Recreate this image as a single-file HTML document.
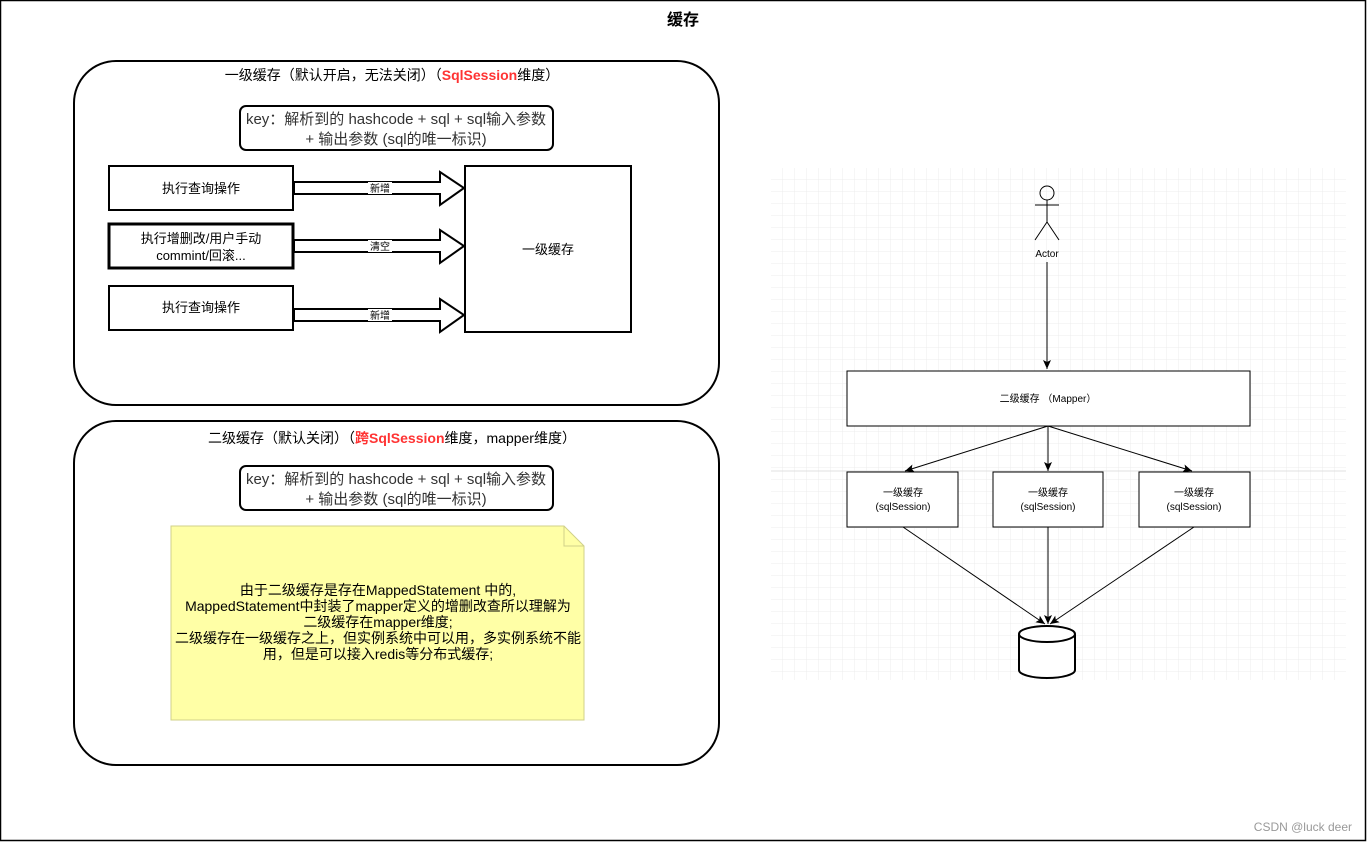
<!DOCTYPE html>
<html><head><meta charset="utf-8"><style>
html,body{margin:0;padding:0;background:#fff;}
svg{display:block;font-family:"Liberation Sans","Noto Sans CJK SC",sans-serif;}
</style></head><body>
<svg width="1367" height="842" viewBox="0 0 1367 842" xmlns="http://www.w3.org/2000/svg">
<defs>
<pattern id="g" x="771" y="168" width="12" height="12" patternUnits="userSpaceOnUse">
<path d="M12 0V12M0 12H12" stroke="#ececec" stroke-width="1" fill="none"/>
</pattern>
<marker id="a" markerWidth="10" markerHeight="10" refX="9" refY="5" orient="auto" markerUnits="userSpaceOnUse">
<path d="M0 1L9 5L0 9L2 5Z" fill="#000"/>
</marker>
</defs>
<rect x="0.5" y="0.5" width="1365" height="840" fill="#fff" stroke="#000" stroke-width="1.5"/>
<text x="683" y="25" font-size="16" font-weight="bold" text-anchor="middle">缓存</text>

<!-- box 1 -->
<rect x="74" y="61" width="645" height="344" rx="42" fill="#fff" stroke="#000" stroke-width="2"/>
<text x="392" y="80" font-size="14" text-anchor="middle">一级缓存（默认开启，无法关闭）（<tspan fill="#ff3333" font-weight="bold">SqlSession</tspan>维度）</text>
<rect x="240" y="106" width="313" height="44" rx="6" fill="#fff" stroke="#000" stroke-width="2"/>
<text x="396" y="124" font-size="15" fill="#333" text-anchor="middle">key：解析到的 hashcode + sql + sql输入参数</text>
<text x="396" y="144" font-size="15" fill="#333" text-anchor="middle">+ 输出参数 (sql的唯一标识)</text>

<g stroke="#000" fill="#fff">
<rect x="109" y="166" width="184" height="44" stroke-width="2"/>
<rect x="109" y="224" width="184" height="44" stroke-width="3"/>
<rect x="109" y="286" width="184" height="44" stroke-width="2"/>
<rect x="465" y="166" width="166" height="166" stroke-width="2"/>
<path d="M294 182H440V172L464 188L440 205V194H294Z" stroke-width="2"/>
<path d="M294 240H440V230L464 246L440 263V252H294Z" stroke-width="2"/>
<path d="M294 309H440V299L464 315L440 332V321H294Z" stroke-width="2"/>
</g>
<g font-size="13" text-anchor="middle">
<text x="201" y="193">执行查询操作</text>
<text x="201" y="243">执行增删改/用户手动</text>
<text x="201" y="260">commint/回滚...</text>
<text x="201" y="312">执行查询操作</text>
<text x="548" y="254">一级缓存</text>
</g>
<g font-size="10" text-anchor="middle">
<rect x="368" y="182" width="24" height="12" fill="#fff"/><text x="380" y="192">新增</text>
<rect x="368" y="240" width="24" height="12" fill="#fff"/><text x="380" y="250">清空</text>
<rect x="368" y="309" width="24" height="12" fill="#fff"/><text x="380" y="319">新增</text>
</g>

<!-- box 2 -->
<rect x="74" y="421" width="645" height="344" rx="42" fill="#fff" stroke="#000" stroke-width="2"/>
<text x="392" y="443" font-size="14" text-anchor="middle">二级缓存（默认关闭）（<tspan fill="#ff3333" font-weight="bold">跨SqlSession</tspan>维度，mapper维度）</text>
<rect x="240" y="466" width="313" height="44" rx="6" fill="#fff" stroke="#000" stroke-width="2"/>
<text x="396" y="484" font-size="15" fill="#333" text-anchor="middle">key：解析到的 hashcode + sql + sql输入参数</text>
<text x="396" y="504" font-size="15" fill="#333" text-anchor="middle">+ 输出参数 (sql的唯一标识)</text>
<path d="M171 526H564L584 546V720H171Z" fill="#ffffa6" stroke="#d0d08a"/>
<path d="M564 526V546H584" fill="none" stroke="#d0d08a"/>
<g font-size="14" text-anchor="middle">
<text x="378" y="595">由于二级缓存是存在MappedStatement 中的,</text>
<text x="378" y="611">MappedStatement中封装了mapper定义的增删改查所以理解为</text>
<text x="378" y="627">二级缓存在mapper维度;</text>
<text x="378" y="643">二级缓存在一级缓存之上，但实例系统中可以用，多实例系统不能</text>
<text x="378" y="659">用，但是可以接入redis等分布式缓存;</text>
</g>

<!-- right diagram -->
<rect x="771" y="168" width="575" height="512" fill="url(#g)"/>
<line x1="771" y1="471" x2="1346" y2="471" stroke="#e0e0e0"/>
<g stroke="#000" fill="none" stroke-width="1">
<circle cx="1047" cy="193" r="7"/>
<path d="M1047 200V222M1035 205H1059M1047 222L1035 240M1047 222L1059 240"/>
<line x1="1047" y1="262" x2="1047" y2="369" marker-end="url(#a)"/>
<rect x="847" y="371" width="403" height="55" fill="#fff"/>
<rect x="847" y="472" width="111" height="55" fill="#fff"/>
<rect x="993" y="472" width="110" height="55" fill="#fff"/>
<rect x="1139" y="472" width="111" height="55" fill="#fff"/>
<line x1="1048" y1="426" x2="905" y2="471" marker-end="url(#a)"/>
<line x1="1048" y1="426" x2="1048" y2="471" marker-end="url(#a)"/>
<line x1="1048" y1="426" x2="1192" y2="471" marker-end="url(#a)"/>
<line x1="903" y1="527" x2="1045" y2="624" marker-end="url(#a)"/>
<line x1="1048" y1="527" x2="1048" y2="624" marker-end="url(#a)"/>
<line x1="1194" y1="527" x2="1050" y2="624" marker-end="url(#a)"/>
<path d="M1019 634V670A28 8 0 0 0 1075 670V634A28 8 0 0 0 1019 634A28 8 0 0 0 1075 634" fill="#fff" stroke-width="2"/>
</g>
<g font-size="10" text-anchor="middle">
<text x="1047" y="257">Actor</text>
<text x="1048" y="402">二级缓存 （Mapper）</text>
<text x="903" y="496">一级缓存</text><text x="903" y="510">(sqlSession)</text>
<text x="1048" y="496">一级缓存</text><text x="1048" y="510">(sqlSession)</text>
<text x="1194" y="496">一级缓存</text><text x="1194" y="510">(sqlSession)</text>
</g>
<text x="1352" y="831" font-size="12" fill="#999" text-anchor="end">CSDN @luck deer</text>
</svg>
</body></html>
